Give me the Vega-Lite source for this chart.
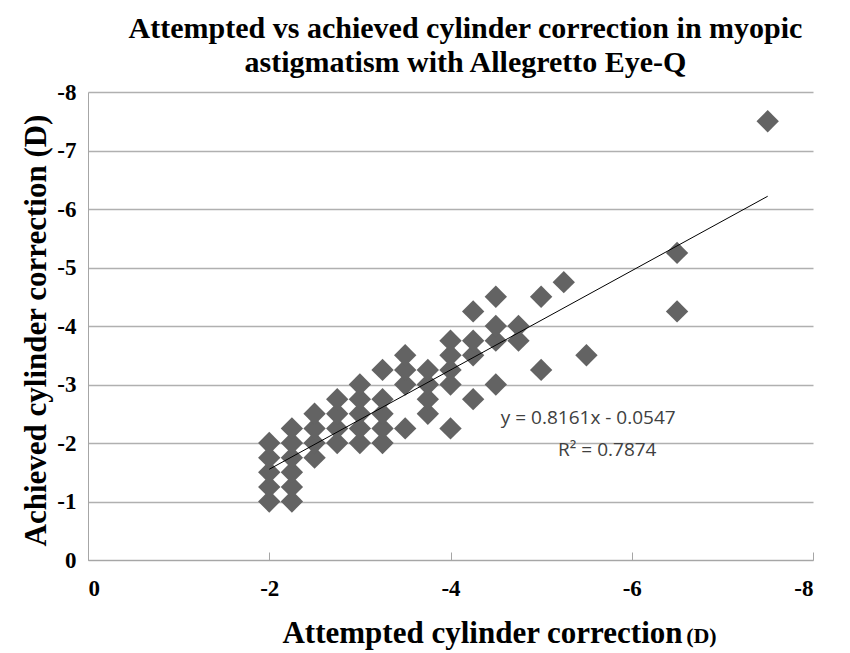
{
  "$schema": "https://vega.github.io/schema/vega-lite/v6.json",
  "autosize": "none",
  "width": 725,
  "height": 468,
  "padding": {"left": 88, "top": 92, "right": 37, "bottom": 93},
  "background": "white",
  "config": {
    "view": {"stroke": null},
    "font": "Liberation Serif"
  },
  "title": {
    "text": ["Attempted vs achieved cylinder correction in myopic", "astigmatism with Allegretto Eye-Q"],
    "font": "Liberation Serif",
    "fontSize": 30,
    "fontWeight": "bold",
    "color": "black",
    "anchor": "middle",
    "dx": 15,
    "offset": 3,
    "lineHeight": 34
  },
  "datasets": {
    "pts": [
      {"attempted": -2, "achieved": -1},
      {"attempted": -2, "achieved": -1.25},
      {"attempted": -2, "achieved": -1.5},
      {"attempted": -2, "achieved": -1.75},
      {"attempted": -2, "achieved": -2},
      {"attempted": -2.25, "achieved": -1},
      {"attempted": -2.25, "achieved": -1.25},
      {"attempted": -2.25, "achieved": -1.5},
      {"attempted": -2.25, "achieved": -1.75},
      {"attempted": -2.25, "achieved": -2},
      {"attempted": -2.25, "achieved": -2.25},
      {"attempted": -2.5, "achieved": -1.75},
      {"attempted": -2.5, "achieved": -2},
      {"attempted": -2.5, "achieved": -2.25},
      {"attempted": -2.5, "achieved": -2.5},
      {"attempted": -2.75, "achieved": -2},
      {"attempted": -2.75, "achieved": -2.25},
      {"attempted": -2.75, "achieved": -2.5},
      {"attempted": -2.75, "achieved": -2.75},
      {"attempted": -3, "achieved": -2},
      {"attempted": -3, "achieved": -2.25},
      {"attempted": -3, "achieved": -2.5},
      {"attempted": -3, "achieved": -2.75},
      {"attempted": -3, "achieved": -3},
      {"attempted": -3.25, "achieved": -2},
      {"attempted": -3.25, "achieved": -2.25},
      {"attempted": -3.25, "achieved": -2.5},
      {"attempted": -3.25, "achieved": -2.75},
      {"attempted": -3.25, "achieved": -3.25},
      {"attempted": -3.5, "achieved": -2.25},
      {"attempted": -3.5, "achieved": -3},
      {"attempted": -3.5, "achieved": -3.25},
      {"attempted": -3.5, "achieved": -3.5},
      {"attempted": -3.75, "achieved": -2.5},
      {"attempted": -3.75, "achieved": -2.75},
      {"attempted": -3.75, "achieved": -3},
      {"attempted": -3.75, "achieved": -3.25},
      {"attempted": -4, "achieved": -2.25},
      {"attempted": -4, "achieved": -3},
      {"attempted": -4, "achieved": -3.25},
      {"attempted": -4, "achieved": -3.5},
      {"attempted": -4, "achieved": -3.75},
      {"attempted": -4.25, "achieved": -2.75},
      {"attempted": -4.25, "achieved": -3.5},
      {"attempted": -4.25, "achieved": -3.75},
      {"attempted": -4.25, "achieved": -4.25},
      {"attempted": -4.5, "achieved": -3},
      {"attempted": -4.5, "achieved": -3.75},
      {"attempted": -4.5, "achieved": -4},
      {"attempted": -4.5, "achieved": -4.5},
      {"attempted": -4.75, "achieved": -3.75},
      {"attempted": -4.75, "achieved": -4},
      {"attempted": -5, "achieved": -3.25},
      {"attempted": -5, "achieved": -4.5},
      {"attempted": -5.25, "achieved": -4.75},
      {"attempted": -5.5, "achieved": -3.5},
      {"attempted": -6.5, "achieved": -4.25},
      {"attempted": -6.5, "achieved": -5.25},
      {"attempted": -7.5, "achieved": -7.5}
    ],
    "notes": [
      {"attempted": -5.52, "achieved": -2.42, "label": "y = 0.8161x - 0.0547"},
      {"attempted": -5.73, "achieved": -1.88, "label": "R² = 0.7874"}
    ],
    "unit": [
      {"attempted": -6.6, "achieved": 1.3, "label": "(D)"}
    ]
  },
  "layer": [
    {
      "data": {"name": "pts"},
      "mark": {"type": "point", "shape": "diamond", "filled": true, "size": 500, "color": "#636363", "opacity": 1},
      "encoding": {
        "x": {
          "field": "attempted", "type": "quantitative",
          "scale": {"domain": [-8, 0], "reverse": true, "nice": false, "zero": false},
          "axis": {
            "values": [0, -2, -4, -6, -8],
            "labelExpr": "toString(datum.value)",
            "grid": false,
            "domainColor": "#a6a6a6",
            "tickColor": "#a6a6a6",
            "tickSize": -8,
            "labelFont": "Liberation Serif",
            "labelFontSize": 23,
            "labelFontWeight": "bold",
            "labelColor": "black",
            "labelPadding": 25,
            "title": "Attempted cylinder correction",
            "titleFont": "Liberation Serif",
            "titleFontSize": 31,
            "titleFontWeight": "bold",
            "titleColor": "black",
            "titleX": 394,
            "titleY": 58
          }
        },
        "y": {
          "field": "achieved", "type": "quantitative",
          "scale": {"domain": [-8, 0], "reverse": true, "nice": false, "zero": false},
          "axis": {
            "values": [0, -1, -2, -3, -4, -5, -6, -7, -8],
            "labelExpr": "toString(datum.value)",
            "grid": true,
            "gridColor": "#b0b0b0",
            "gridWidth": 1.5,
            "domainColor": "#a6a6a6",
            "ticks": false,
            "labelFont": "Liberation Serif",
            "labelFontSize": 23,
            "labelFontWeight": "bold",
            "labelColor": "black",
            "labelPadding": 12,
            "title": "Achieved cylinder correction (D)",
            "titleFont": "Liberation Serif",
            "titleFontSize": 31,
            "titleFontWeight": "bold",
            "titleColor": "black",
            "titleX": -36,
            "titleY": 238
          }
        }
      }
    },
    {
      "data": {"name": "pts"},
      "transform": [{"regression": "achieved", "on": "attempted"}],
      "mark": {"type": "line", "color": "black", "strokeWidth": 1},
      "encoding": {
        "x": {"field": "attempted", "type": "quantitative"},
        "y": {"field": "achieved", "type": "quantitative"}
      }
    },
    {
      "data": {"name": "notes"},
      "mark": {"type": "text", "font": "Open Sans", "fontSize": 19, "color": "#404040", "align": "center", "baseline": "middle"},
      "encoding": {
        "x": {"field": "attempted", "type": "quantitative"},
        "y": {"field": "achieved", "type": "quantitative"},
        "text": {"field": "label"}
      }
    },
    {
      "data": {"name": "unit"},
      "mark": {"type": "text", "font": "Liberation Serif", "fontWeight": "bold", "fontSize": 22, "color": "black", "align": "left", "baseline": "middle"},
      "encoding": {
        "x": {"field": "attempted", "type": "quantitative"},
        "y": {"field": "achieved", "type": "quantitative"},
        "text": {"field": "label"}
      }
    }
  ]
}
